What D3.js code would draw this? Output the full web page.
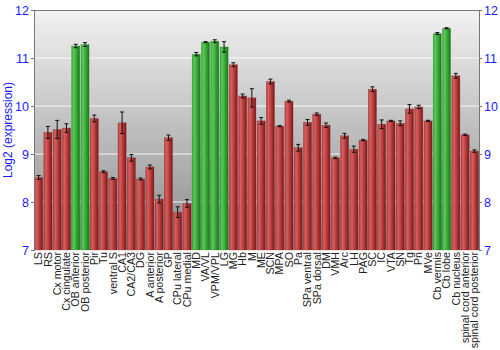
<!DOCTYPE html>
<html>
<head>
<meta charset="utf-8">
<script src="https://cdn.jsdelivr.net/npm/d3@7"></script>
<style>
  html, body { margin: 0; padding: 0; background: #fff; }
  svg { display: block; font-family: "Liberation Sans", Arial, sans-serif; }
</style>
</head>
<body>
<svg id="chart" width="500" height="350"></svg>
<script>
const regions = [
  "LS", "RS", "Cx motor", "Cx cingulate", "OB anterior", "OB posterior", "Pir", "Tu",
  "ventral S", "CA1", "CA2/CA3", "DG", "A anterior", "A posterior", "GP", "CPu lateral",
  "CPu medial", "MD", "VA/VL", "VPM/VPL", "LG", "MG", "Hb", "M", "ME", "SCN", "MPA", "SO",
  "Pa", "SPa ventral", "SPa dorsal", "DM", "VMH", "Arc", "LH", "PAG", "SC", "IC", "VTA",
  "SN", "Tg", "Pn", "MVe", "Cb vermis", "Cb lobe", "Cb nucleus", "spinal cord anterior",
  "spinal cord posterior"
];
const expression = [
  8.51, 9.45, 9.51, 9.54, 11.25, 11.28, 9.74, 8.63,
  8.49, 9.65, 8.92, 8.48, 8.73, 8.06, 9.34, 7.79,
  7.97, 11.08, 11.33, 11.35, 11.23, 10.86, 10.21, 10.17, 9.69, 10.51, 9.58, 10.10,
  9.13, 9.66, 9.83, 9.60, 8.92, 9.38, 9.10, 9.29, 10.35, 9.62, 9.69,
  9.64, 9.94, 9.98, 9.69, 11.51, 11.62, 10.63, 9.40,
  9.06
];
const errors = [
  0.04, 0.125, 0.19, 0.09, 0.035, 0.04, 0.07, 0.02,
  0.02, 0.225, 0.07, 0.02, 0.04, 0.08, 0.055, 0.11,
  0.08, 0.035, 0.012, 0.03, 0.11, 0.04, 0.04, 0.19, 0.07, 0.05, 0.012, 0.02,
  0.07, 0.06, 0.025, 0.045, 0.015, 0.05, 0.065, 0.015, 0.05, 0.09, 0.012,
  0.05, 0.09, 0.035, 0.012, 0.02, 0.012, 0.05, 0.015,
  0.025
];
// which bars are drawn green (rest are red)
const highlighted = ["OB anterior", "OB posterior", "MD", "VA/VL", "VPM/VPL", "LG", "Cb vermis", "Cb lobe"];
const yTicks = [7, 8, 9, 10, 11, 12];

const data = regions.map((r, i) => ({ region: r, value: expression[i], err: errors[i] }));

const margin = { top: 10, right: 21, bottom: 100, left: 34 };
const width = 500, height = 350;
const innerW = width - margin.left - margin.right;
const innerH = height - margin.top - margin.bottom;

const svg = d3.select("#chart");
const defs = svg.append("defs");

const bg = defs.append("linearGradient").attr("id", "bg").attr("x1", 0).attr("y1", 0).attr("x2", 0).attr("y2", 1);
bg.append("stop").attr("offset", "0%").attr("stop-color", "#f2f2f2");
bg.append("stop").attr("offset", "100%").attr("stop-color", "#8a8a8a");

function barGradient(id, light, mid, dark) {
  const g = defs.append("linearGradient").attr("id", id).attr("x1", 0).attr("y1", 0).attr("x2", 1).attr("y2", 0);
  g.append("stop").attr("offset", "0%").attr("stop-color", mid);
  g.append("stop").attr("offset", "25%").attr("stop-color", light);
  g.append("stop").attr("offset", "60%").attr("stop-color", mid);
  g.append("stop").attr("offset", "100%").attr("stop-color", dark);
}
barGradient("red", "#d46060", "#b83a3a", "#7a1818");
barGradient("green", "#5cc85c", "#34a834", "#1c741c");

const root = svg.append("g").attr("transform", `translate(${margin.left},${margin.top})`);

const x = d3.scaleBand().domain(regions).range([0, innerW]).paddingInner(0.12).paddingOuter(0.06);
const y = d3.scaleLinear().domain([7, 12]).range([innerH, 0]);

root.append("rect").attr("width", innerW).attr("height", innerH).attr("fill", "url(#bg)");

root.append("g").selectAll("line").data(yTicks.slice(1, -1)).join("line")
  .attr("x1", 0).attr("x2", innerW)
  .attr("y1", d => y(d)).attr("y2", d => y(d))
  .attr("stroke", "#ffffff").attr("stroke-opacity", 0.85).attr("stroke-width", 1.2);

root.append("line").attr("x1", 0).attr("x2", innerW).attr("y1", 0.5).attr("y2", 0.5)
  .attr("stroke", "#777").attr("stroke-width", 1);

const bars = root.append("g").selectAll("g.bar").data(data).join("g").attr("class", "bar");
bars.append("rect")
  .attr("x", d => x(d.region))
  .attr("y", d => y(d.value))
  .attr("width", x.bandwidth())
  .attr("height", d => innerH - y(d.value))
  .attr("fill", d => highlighted.includes(d.region) ? "url(#green)" : "url(#red)")
  .attr("stroke", d => highlighted.includes(d.region) ? "#2a8a2a" : "#8e2a2a")
  .attr("stroke-opacity", 0.6)
  .attr("stroke-width", 0.5);

const cap = 2;
bars.append("line")
  .attr("x1", d => x(d.region) + x.bandwidth() / 2).attr("x2", d => x(d.region) + x.bandwidth() / 2)
  .attr("y1", d => y(d.value + d.err)).attr("y2", d => y(d.value - d.err))
  .attr("stroke", "#111").attr("stroke-width", 1);
bars.selectAll("line.cap").data(d => [d.value + d.err, d.value - d.err].map(v => ({ region: d.region, v }))).join("line")
  .attr("class", "cap")
  .attr("x1", d => x(d.region) + x.bandwidth() / 2 - cap).attr("x2", d => x(d.region) + x.bandwidth() / 2 + cap)
  .attr("y1", d => y(d.v)).attr("y2", d => y(d.v))
  .attr("stroke", "#111").attr("stroke-width", 1);

const gl = root.append("g").call(d3.axisLeft(y).tickValues(yTicks).tickSize(3).tickPadding(2).tickFormat(d3.format("d")));
const gr = root.append("g").attr("transform", `translate(${innerW},0)`)
  .call(d3.axisRight(y).tickValues(yTicks).tickSize(3).tickPadding(2).tickFormat(d3.format("d")));
[gl, gr].forEach(g => {
  g.select(".domain").attr("stroke", "#777");
  g.selectAll(".tick line").attr("stroke", "#777");
  g.selectAll("text").attr("fill", "#1a1aff").style("font-size", "12.5px")
    .style("font-family", "Liberation Sans, Arial, sans-serif");
});

const gx = root.append("g").attr("transform", `translate(0,${innerH})`)
  .call(d3.axisBottom(x).tickSize(0).tickPadding(3));
gx.select(".domain").remove();
gx.selectAll("text")
  .attr("fill", "#222")
  .style("font-size", "10.7px")
  .style("font-family", "Liberation Sans, Arial, sans-serif")
  .attr("text-anchor", "end")
  .attr("transform", "rotate(-90)")
  .attr("x", -2).attr("y", 0).attr("dy", "0.35em");

svg.append("text")
  .attr("transform", `translate(12,${margin.top + innerH / 2}) rotate(-90)`)
  .attr("text-anchor", "middle")
  .attr("fill", "#1a1aff")
  .style("font-size", "12px")
  .text("Log2 (expression)");
</script>
</body>
</html>
